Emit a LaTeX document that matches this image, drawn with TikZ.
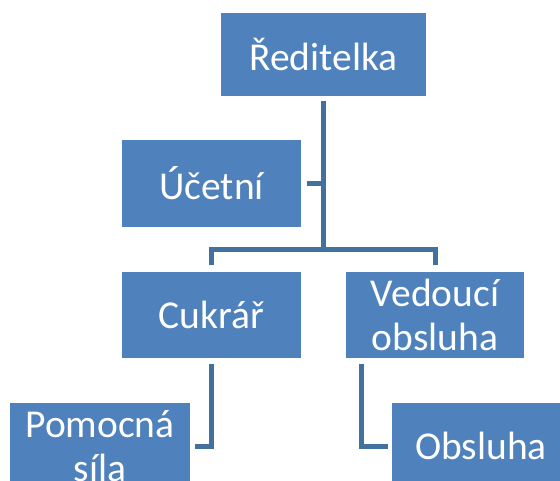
\documentclass[tikz,border=0pt]{standalone}
\usepackage{fontspec}
\setmainfont{Carlito}
\usetikzlibrary{calc}
\definecolor{boxblue}{HTML}{4F81BD}
\definecolor{linkblue}{HTML}{41719C}
\begin{document}
\begin{tikzpicture}[x=1pt,y=-1pt,
  box/.style={fill=boxblue, draw=none, text=white, inner sep=0pt, align=center,
    font=\fontsize{39.5pt}{44pt}\selectfont, minimum height=86pt},
  conn/.style={draw=linkblue, line width=5pt}]
\useasboundingbox (0,0) rectangle (560,481);
\begin{scope}
\clip (0,0) rectangle (560,481);
\node[box, minimum width=205pt, minimum height=83pt] (red) at (323.5,54.5) {Ředitelka};
\node[box, minimum width=179pt, minimum height=87pt] (uce) at (211.5,183.5) {Účetní};
\node[box, minimum width=179pt] (cuk) at (211.5,315) {Cukrář};
\node[box, minimum width=178pt] (ved) at (435,315) {Vedoucí\\obsluha};
\node[box, minimum width=180pt] (pom) at (100,446) {Pomocná\\síla};
\node[box, minimum width=178pt] (obs) at (481,446) {Obsluha};
\coordinate (hub) at ($(red.south)+(0,153)$);
\draw[conn] ([yshift=-5pt]red.south) -- (hub);
\draw[conn] ([xshift=6pt]uce.east) -- (uce.east -| hub);
\draw[conn] ([yshift=7pt]cuk.north) |- (hub) -| ([yshift=7pt]ved.north);
\draw[conn] ([yshift=-6pt]cuk.south) |- ([xshift=5pt]pom.east);
\draw[conn] ([xshift=-74pt,yshift=-6pt]ved.south) |- ([xshift=-4pt]obs.west);
\end{scope}
\end{tikzpicture}
\end{document}
